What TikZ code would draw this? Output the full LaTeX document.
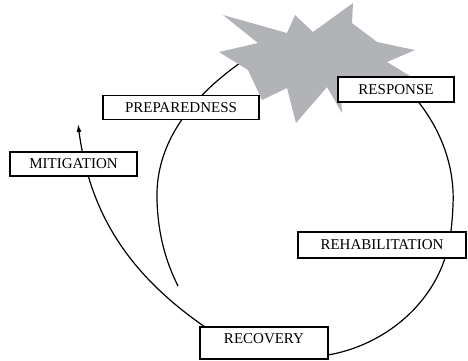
\documentclass[tikz,border=0pt]{standalone}
\usepackage{fontspec}
\setmainfont{Liberation Serif}
\usetikzlibrary{arrows.meta}
\definecolor{blastgray}{RGB}{177,179,182}

\begin{document}
\begin{tikzpicture}[x=1pt,y=-1pt,
        phase/.style={draw, line width=1.5pt, fill=white, inner sep=0pt,
            font=\rmfamily\fontsize{15}{18}\selectfont},
        cycleline/.style={line width=1.2pt}]
        \useasboundingbox (0,0) rectangle (468,360);
        % ends of the arcs
        \coordinate (leftTop) at (240,63);
        \coordinate (leftLow) at (157,200);
        \coordinate (leftEnd) at (178,286);
        \coordinate (rightTop) at (410,92);
        \coordinate (rightMid) at (453,205);
        \coordinate (rightLow) at (445,258);
        \coordinate (recRight) at (328,355);
        \coordinate (recLeft) at (205,327);
        \coordinate (mitTip) at (78,124);

        \draw[cycleline] (leftTop) .. controls (195,95) and (155,140) .. (leftLow)
            .. controls (158,235) and (166,262) .. (leftEnd);
        \draw[cycleline] (rightTop) .. controls (440,125) and (455,165) .. (rightMid)
            .. controls (452,228) and (450,243) .. (rightLow)
            .. controls (430,305) and (385,345) .. (recRight);
        \draw[cycleline, -{Latex[length=8pt,width=5pt]}] (recLeft)
            .. controls (130,275) and (90,215) .. (mitTip);

        % the disaster
        \fill[blastgray] (223,15) -- (287,33) -- (295,15) -- (313,32) -- (353,3)
            -- (352,23) -- (377,42) -- (415,50) -- (387,62) -- (420,82)
            -- (340,80) -- (342,113) -- (327,87) -- (296,123) -- (287,88)
            -- (262,100) -- (248,70) -- (219,52) -- (258,43) -- cycle;

        \node[phase, minimum width=156pt, minimum height=24pt] (prep) at (181,107.5) {PREPAREDNESS};
        \node[phase, minimum width=116pt, minimum height=25pt] (resp) at (396,89.5) {RESPONSE};
        \node[phase, minimum width=127pt, minimum height=24pt] (mit) at (73.5,164) {MITIGATION};
        \node[phase, minimum width=168pt, minimum height=26pt] (rehab) at (382,245) {REHABILITATION};
        \node[phase, minimum width=128pt, minimum height=32pt, text depth=8pt] (rec) at (264,343) {RECOVERY};
    \end{tikzpicture}
\end{document}
